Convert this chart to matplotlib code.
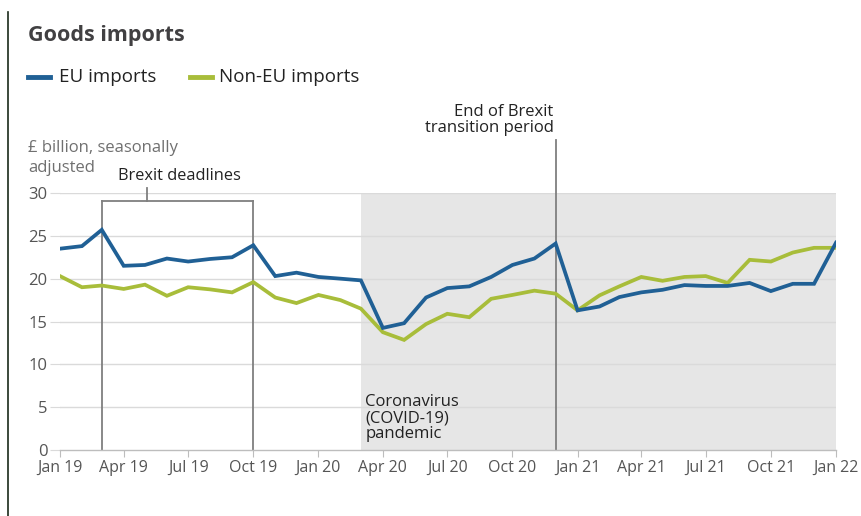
import numpy as np
import pandas as pd
import matplotlib
matplotlib.use("Agg")
import matplotlib.pyplot as plt
import matplotlib.dates as mdates
from matplotlib.lines import Line2D

plt.rcParams['font.family'] = ['Open Sans', 'DejaVu Sans']

# monthly data, Jan 2019 - Jan 2022 (£ billion, seasonally adjusted)
months = pd.date_range('2019-01-01', '2022-01-01', freq='MS')
eu_imports = [23.5, 23.8, 25.7, 21.5, 21.6, 22.35, 22.0, 22.3, 22.5, 23.9, 20.3, 20.7,
              20.2, 20.0, 19.8, 14.25, 14.8, 17.8, 18.9, 19.1, 20.2, 21.6, 22.35, 24.1,
              16.3, 16.75, 17.85, 18.4, 18.7, 19.25, 19.15, 19.15, 19.5, 18.55, 19.4, 19.4,
              24.2]
non_eu_imports = [20.3, 19.0, 19.2, 18.8, 19.3, 18.0, 19.0, 18.75, 18.4, 19.6, 17.8, 17.15,
                  18.1, 17.5, 16.5, 13.75, 12.85, 14.7, 15.9, 15.5, 17.65, 18.1, 18.6, 18.25,
                  16.3, 18.05, 19.1, 20.2, 19.75, 20.2, 20.3, 19.5, 22.2, 22.0, 23.05, 23.6,
                  23.6]
tick_dates = pd.date_range('2019-01-01', '2022-01-01', freq='3MS')
brexit_deadlines = [pd.Timestamp('2019-03-01'), pd.Timestamp('2019-10-01')]
brexit_label_pos = pd.Timestamp('2019-05-04')
covid_start = pd.Timestamp('2020-03-01')
transition_end = pd.Timestamp('2020-12-01')

blue = '#206095'
green = '#a8bd3a'
grey_text = '#707070'
dark = '#222222'

fig = plt.figure(figsize=(8.61, 5.16), dpi=100)
ax = fig.add_axes([60 / 861, 1 - 450 / 516, 776 / 861, 257 / 516])

x0, x1 = months[0], months[-1]
ax.set_xlim(x0, x1)
ax.set_ylim(0, 30)

# shaded pandemic period
ax.axvspan(covid_start, x1, color='#e6e6e6', zorder=0, lw=0)

# gridlines
for y in [5, 10, 15, 20, 25, 30]:
    ax.axhline(y, color='#dadada', lw=1, zorder=1)

# series
ax.plot(months, non_eu_imports, color=green, lw=2.7, zorder=4, solid_joinstyle='miter')
ax.plot(months, eu_imports, color=blue, lw=2.7, zorder=5, solid_joinstyle='miter')

# brexit deadlines bracket
for d in brexit_deadlines:
    ax.plot([d, d], [0, 29.1], color='#7f7f7f', lw=1.3, zorder=3)
ax.plot(brexit_deadlines, [29.1, 29.1], color='#7f7f7f', lw=1.3, zorder=3, clip_on=False)
ax.plot([brexit_label_pos, brexit_label_pos], [29.1, 30.6], color='#7f7f7f', lw=1.3,
        zorder=3, clip_on=False)
ax.text(pd.Timestamp('2019-06-18'), 31.1, 'Brexit deadlines', ha='center', va='bottom',
        fontsize=11.8, color=dark)

# end of transition line
ax.plot([transition_end, transition_end], [0, 36.2], color='#7f7f7f', lw=1.3, zorder=3,
        clip_on=False)
ax.text(transition_end - pd.Timedelta(days=3), 36.6, 'End of Brexit\ntransition period',
        ha='right', va='bottom', fontsize=12, color=dark, linespacing=1.0)

# covid label
ax.text(covid_start + pd.Timedelta(days=6), 0.9, 'Coronavirus\n(COVID-19)\npandemic',
        ha='left', va='bottom', fontsize=12, color=dark, linespacing=1.0, zorder=6)

# axes styling
for s in ['top', 'right', 'left']:
    ax.spines[s].set_visible(False)
ax.spines['bottom'].set_color('#bdbdbd')
ax.spines['bottom'].set_linewidth(1)
ax.spines['bottom'].set_zorder(6)

ax.set_yticks([0, 5, 10, 15, 20, 25, 30])
ax.tick_params(axis='y', length=7, color='#dadada', labelsize=12, labelcolor='#555555', pad=2)
ax.set_xticks(tick_dates)
ax.xaxis.set_major_formatter(mdates.DateFormatter('%b %y'))
ax.tick_params(axis='x', length=5, color='#bdbdbd', labelsize=11.5, labelcolor='#555555', pad=2)

# title, legend, y label
fig.text(28 / 861, 1 - 35 / 516, 'Goods imports', fontsize=15.5, fontweight='bold',
         color='#414042', va='center', ha='left')
fig.add_artist(Line2D([28 / 861, 50 / 861], [1 - 77 / 516] * 2, color=blue, lw=3.5))
fig.text(59 / 861, 1 - 77 / 516, 'EU imports', fontsize=13.5, color=dark, va='center')
fig.add_artist(Line2D([190 / 861, 212 / 861], [1 - 77 / 516] * 2, color=green, lw=3.5))
fig.text(219 / 861, 1 - 77 / 516, 'Non-EU imports', fontsize=13.5, color=dark, va='center')
fig.text(28 / 861, 1 - 148 / 516, '£ billion, seasonally', fontsize=12,
         color=grey_text, va='center', ha='left')
fig.text(28 / 861, 1 - 168 / 516, 'adjusted', fontsize=12,
         color=grey_text, va='center', ha='left')

# left border line from the screenshot
fig.add_artist(Line2D([8 / 861, 8 / 861], [0, 1 - 12 / 516], color='#1a2a1a', lw=1.2))

fig.savefig('out.png', dpi=100)
